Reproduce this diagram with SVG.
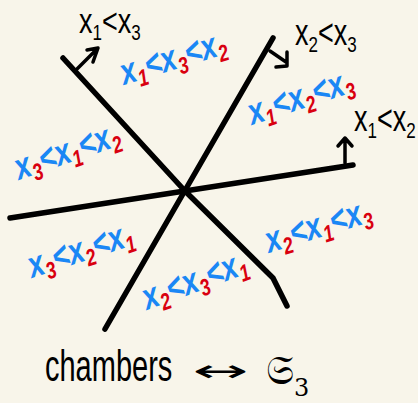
<svg xmlns="http://www.w3.org/2000/svg" width="418" height="403" viewBox="0 0 418 403">
<style>
.ln{stroke:#000;stroke-width:5.5;fill:none;stroke-linecap:round;stroke-linejoin:round}
.ar{stroke:#000;stroke-width:3.5;fill:none;stroke-linecap:round;stroke-linejoin:round}
.lb{font-family:"Liberation Sans",sans-serif;font-size:28px;font-style:italic;font-weight:bold}
.b{fill:#1a87f5}
.r{fill:#d9000f;font-size:18px}
.k{font-family:"Liberation Sans",sans-serif;font-size:27px;fill:#000}
.ks{font-size:17px}
</style>
<rect width="418" height="403" fill="#f8f5ea"/>
<g id="connectors">
<path class="ln" d="M63,58 L185,191 L273,278 L287,306"/>
<path class="ln" d="M273,38 L105,329"/>
<path class="ln" d="M10,218 L353,165"/>
<path class="ar" d="M77,69 L97,49 M87,50 L98,48 L93,62"/>
<path class="ar" d="M270,51 L286,62 M287,52 L287,66 L276,67"/>
<path class="ar" d="M345,163 L345,138 M338,146 L345,138 L352,146"/>
</g>
<g id="wall-x1x3"><text class="k" transform="translate(79,33) scale(1,1.3)">x<tspan class="ks" dy="5">1</tspan><tspan dy="-5">&lt;</tspan>x<tspan class="ks" dy="5">3</tspan></text></g>
<g id="wall-x2x3"><text class="k" transform="translate(295,45) scale(1,1.35)">x<tspan class="ks" dy="5">2</tspan><tspan dy="-5">&lt;</tspan>x<tspan class="ks" dy="5">3</tspan></text></g>
<g id="wall-x1x2"><text class="k" transform="translate(354,131) scale(1,1.35)">x<tspan class="ks" dy="5">1</tspan><tspan dy="-5">&lt;</tspan>x<tspan class="ks" dy="5">2</tspan></text></g>
<g id="ch-132"><text class="lb" transform="translate(124,85) rotate(-17) scale(1,1.3)"><tspan class="b">x</tspan><tspan class="r" dy="5">1</tspan><tspan class="b" dy="-5">&lt;x</tspan><tspan class="r" dy="5">3</tspan><tspan class="b" dy="-5">&lt;x</tspan><tspan class="r" dy="5">2</tspan></text></g>
<g id="ch-123"><text class="lb" transform="translate(252,125) rotate(-18) scale(1,1.3)"><tspan class="b">x</tspan><tspan class="r" dy="5">1</tspan><tspan class="b" dy="-5">&lt;x</tspan><tspan class="r" dy="5">2</tspan><tspan class="b" dy="-5">&lt;x</tspan><tspan class="r" dy="5">3</tspan></text></g>
<g id="ch-312"><text class="lb" transform="translate(19,180) rotate(-19) scale(1,1.3)"><tspan class="b">x</tspan><tspan class="r" dy="5">3</tspan><tspan class="b" dy="-5">&lt;x</tspan><tspan class="r" dy="5">1</tspan><tspan class="b" dy="-5">&lt;x</tspan><tspan class="r" dy="5">2</tspan></text></g>
<g id="ch-321"><text class="lb" transform="translate(32,278) rotate(-18) scale(1,1.3)"><tspan class="b">x</tspan><tspan class="r" dy="5">3</tspan><tspan class="b" dy="-5">&lt;x</tspan><tspan class="r" dy="5">2</tspan><tspan class="b" dy="-5">&lt;x</tspan><tspan class="r" dy="5">1</tspan></text></g>
<g id="ch-231"><text class="lb" transform="translate(147,310) rotate(-20) scale(1,1.3)"><tspan class="b">x</tspan><tspan class="r" dy="5">2</tspan><tspan class="b" dy="-5">&lt;x</tspan><tspan class="r" dy="5">3</tspan><tspan class="b" dy="-5">&lt;x</tspan><tspan class="r" dy="5">1</tspan></text></g>
<g id="ch-213"><text class="lb" transform="translate(269,253) rotate(-17) scale(1,1.3)"><tspan class="b">x</tspan><tspan class="r" dy="5">2</tspan><tspan class="b" dy="-5">&lt;x</tspan><tspan class="r" dy="5">1</tspan><tspan class="b" dy="-5">&lt;x</tspan><tspan class="r" dy="5">3</tspan></text></g>
<g id="caption">
<text transform="translate(45,381) scale(1,1.5)" font-family="Liberation Sans, sans-serif" font-size="29">chambers</text>
<text x="192" y="381" font-family="DejaVu Sans, sans-serif" font-size="30" textLength="56" lengthAdjust="spacingAndGlyphs">↔</text>
<text x="266" y="384" font-family="DejaVu Serif, DejaVu Sans, serif" font-size="40">𝔖<tspan font-size="24" dy="12">3</tspan></text>
</g>
</svg>
